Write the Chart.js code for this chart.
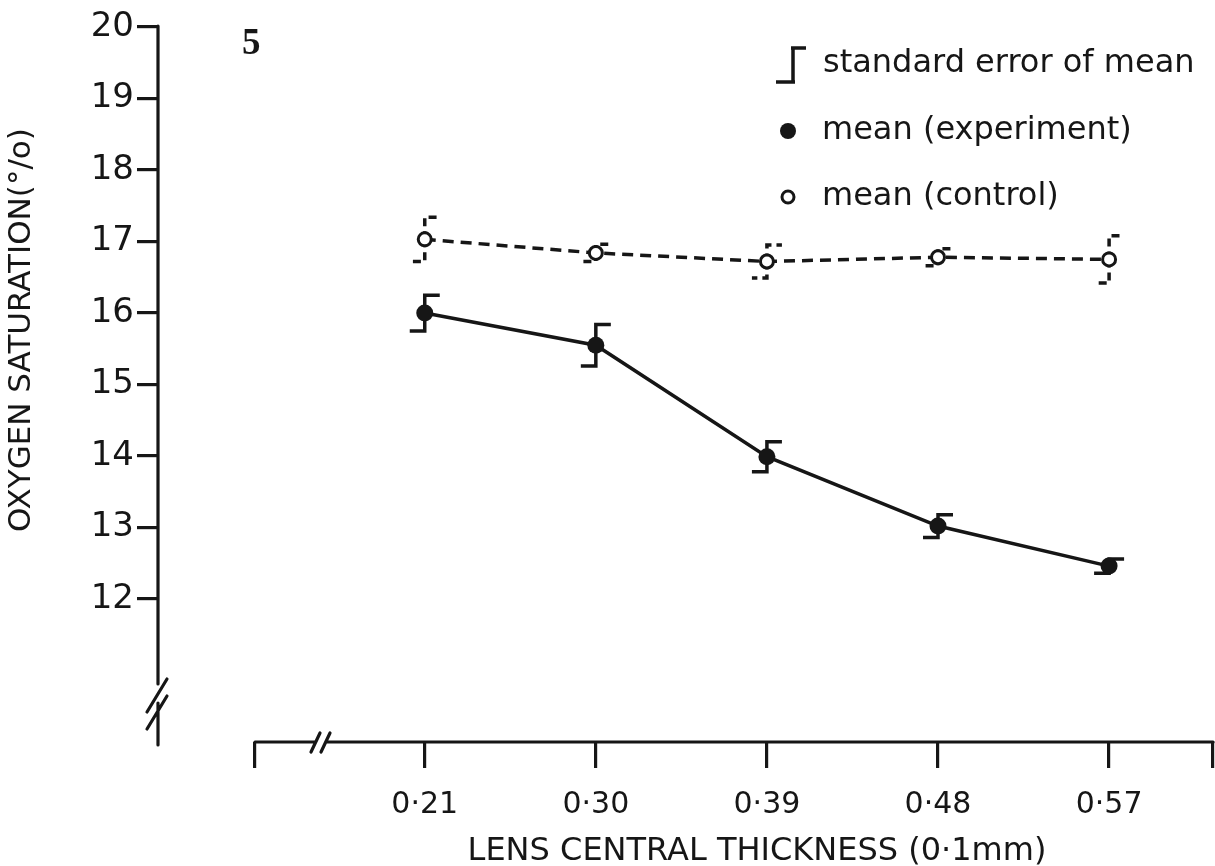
<!DOCTYPE html>
<html><head><meta charset="utf-8">
<script src="https://cdn.jsdelivr.net/npm/chart.js@4/dist/chart.umd.min.js"></script>
<style>html,body{margin:0;padding:0;background:#fff;}#c{display:block;}</style>
</head><body>
<canvas id="c" width="1215" height="866"></canvas>
<script>
// ---- data ----
const thickness = [0.21, 0.30, 0.39, 0.48, 0.57];
const tickLabels = ['0·21', '0·30', '0·39', '0·48', '0·57'];
const experimentMean = [16.0, 15.55, 13.99, 13.02, 12.46];
const experimentSE = [0.25, 0.29, 0.21, 0.16, 0.10];
const controlMean = [17.03, 16.84, 16.72, 16.78, 16.75];
const controlSE = [0.31, 0.12, 0.23, 0.12, 0.33];
const yTicks = [12, 13, 14, 15, 16, 17, 18, 19, 20];
const xAxisEnds = [0.1207, 0.6247];
const legendLabels = ['standard error of mean', 'mean (experiment)', 'mean (control)'];
const figureNumber = '5';
const xTitle = 'LENS CENTRAL THICKNESS (0·1mm)';
const yTitle = 'OXYGEN SATURATION(°/o)';

const ink = '#161616';
const FONT = 'DejaVu Sans';

const xAxisTicks = [xAxisEnds[0], ...thickness, xAxisEnds[1]];

const errorBars = {
  id: 'errorBars',
  beforeDatasetsDraw(chart) {
    const {ctx, scales: {x, y}} = chart;
    const sets = [
      {mean: experimentMean, se: experimentSE, dash: []},
      {mean: controlMean, se: controlSE, dash: [8, 5]}
    ];
    ctx.save();
    ctx.strokeStyle = ink;
    ctx.lineWidth = 3.5;
    ctx.lineCap = 'butt';
    const cap = 15;
    sets.forEach(s => {
      ctx.setLineDash(s.dash);
      s.mean.forEach((m, i) => {
        const px = x.getPixelForValue(thickness[i]);
        const py = y.getPixelForValue(m);
        const top = y.getPixelForValue(m + s.se[i]);
        const bot = y.getPixelForValue(m - s.se[i]);
        ctx.beginPath();
        ctx.moveTo(px, py); ctx.lineTo(px, top); ctx.lineTo(px + cap, top);
        ctx.moveTo(px, py); ctx.lineTo(px, bot); ctx.lineTo(px - cap, bot);
        ctx.stroke();
      });
    });
    ctx.restore();
  }
};

const decorations = {
  id: 'decorations',
  afterDraw(chart) {
    const {ctx, chartArea, scales: {x, y}} = chart;
    ctx.save();
    ctx.strokeStyle = ink; ctx.fillStyle = ink;
    ctx.lineWidth = 3.2;
    ctx.lineCap = 'round';
    // y axis with break
    const ax = chartArea.left;
    ctx.beginPath();
    ctx.moveTo(ax, y.getPixelForValue(20) - 1);
    ctx.lineTo(ax, 684);
    ctx.moveTo(ax, 703);
    ctx.lineTo(ax, 745);
    ctx.moveTo(ax - 11, 712); ctx.lineTo(ax + 9, 679);
    ctx.moveTo(ax - 11, 729); ctx.lineTo(ax + 9, 696);
    ctx.stroke();
    // x axis with break
    const by = chartArea.bottom;
    const x0 = x.getPixelForValue(xAxisEnds[0]);
    const x1 = x.getPixelForValue(xAxisEnds[1]);
    ctx.beginPath();
    ctx.moveTo(x0, by); ctx.lineTo(315, by);
    ctx.moveTo(326, by); ctx.lineTo(x1, by);
    ctx.moveTo(311, by + 10); ctx.lineTo(320, by - 9);
    ctx.moveTo(321, by + 10); ctx.lineTo(330, by - 9);
    ctx.stroke();

    // figure number
    ctx.font = 'bold 37px "Liberation Serif"';
    ctx.textAlign = 'left'; ctx.textBaseline = 'alphabetic';
    ctx.fillText(figureNumber, 242, 54);

    // legend
    ctx.lineWidth = 3.5; ctx.lineCap = 'butt';
    ctx.beginPath();
    ctx.moveTo(793, 48); ctx.lineTo(793, 82);
    ctx.moveTo(791, 48); ctx.lineTo(806, 48);
    ctx.moveTo(776, 82); ctx.lineTo(795, 82);
    ctx.stroke();
    ctx.beginPath(); ctx.arc(788, 131, 8, 0, Math.PI * 2); ctx.fill();
    ctx.lineWidth = 3;
    ctx.beginPath(); ctx.arc(788, 197, 6, 0, Math.PI * 2); ctx.stroke();
    ctx.font = '32px "' + FONT + '"';
    ctx.fillText(legendLabels[0], 823, 72);
    ctx.fillText(legendLabels[1], 822, 139);
    ctx.fillText(legendLabels[2], 822, 205);

    // axis titles
    ctx.font = '32px "' + FONT + '"';
    ctx.textAlign = 'center';
    ctx.fillText(xTitle, 757, 860);
    ctx.save();
    ctx.translate(22, 330);
    ctx.rotate(-Math.PI / 2);
    ctx.font = '31px "' + FONT + '"';
    ctx.textBaseline = 'middle';
    ctx.fillText(yTitle, 0, 0);
    ctx.restore();
    ctx.restore();
  }
};

new Chart(document.getElementById('c'), {
  type: 'line',
  data: {
    datasets: [
      {
        label: legendLabels[1],
        data: thickness.map((t, i) => ({x: t, y: experimentMean[i]})),
        borderColor: ink, borderWidth: 3.5,
        pointRadius: 8.5, pointBackgroundColor: ink, pointBorderColor: ink, pointBorderWidth: 0,
        tension: 0
      },
      {
        label: legendLabels[2],
        data: thickness.map((t, i) => ({x: t, y: controlMean[i]})),
        borderColor: ink, borderWidth: 3.5, borderDash: [11, 7],
        pointRadius: 6.5, pointBackgroundColor: '#fff', pointBorderColor: ink, pointBorderWidth: 3,
        tension: 0
      }
    ]
  },
  options: {
    responsive: false, animation: false, devicePixelRatio: 1,
    layout: {autoPadding: false, padding: {top: 27, right: 2, left: 0, bottom: 0}},
    plugins: {legend: {display: false}, tooltip: {enabled: false}},
    scales: {
      x: {
        type: 'linear', min: 0.06968, max: 0.62466,
        afterBuildTicks: s => { s.ticks = xAxisTicks.map(v => ({value: v})); },
        afterFit: s => { s.height = 124; s.paddingLeft = 0; s.paddingRight = 0; },
        border: {display: false},
        grid: {drawOnChartArea: false, drawTicks: true, tickLength: 26, lineWidth: 3.2, color: ink},
        ticks: {
          autoSkip: false, maxRotation: 0, minRotation: 0, padding: 19, color: ink,
          font: {family: FONT, size: 30},
          callback: (v, i) => (i >= 1 && i <= thickness.length) ? tickLabels[i - 1] : ''
        }
      },
      y: {
        min: 10, max: 20,
        afterBuildTicks: s => { s.ticks = yTicks.map(v => ({value: v})); },
        afterFit: s => { s.width = 158; s.paddingTop = 0; s.paddingBottom = 0; },
        border: {display: false},
        grid: {drawOnChartArea: false, drawTicks: true, tickLength: 21, lineWidth: 3.2, color: ink},
        ticks: {padding: 3, color: ink, font: {family: FONT, size: 34}, callback: v => String(v)}
      }
    }
  },
  plugins: [errorBars, decorations]
});
</script>
</body></html>
